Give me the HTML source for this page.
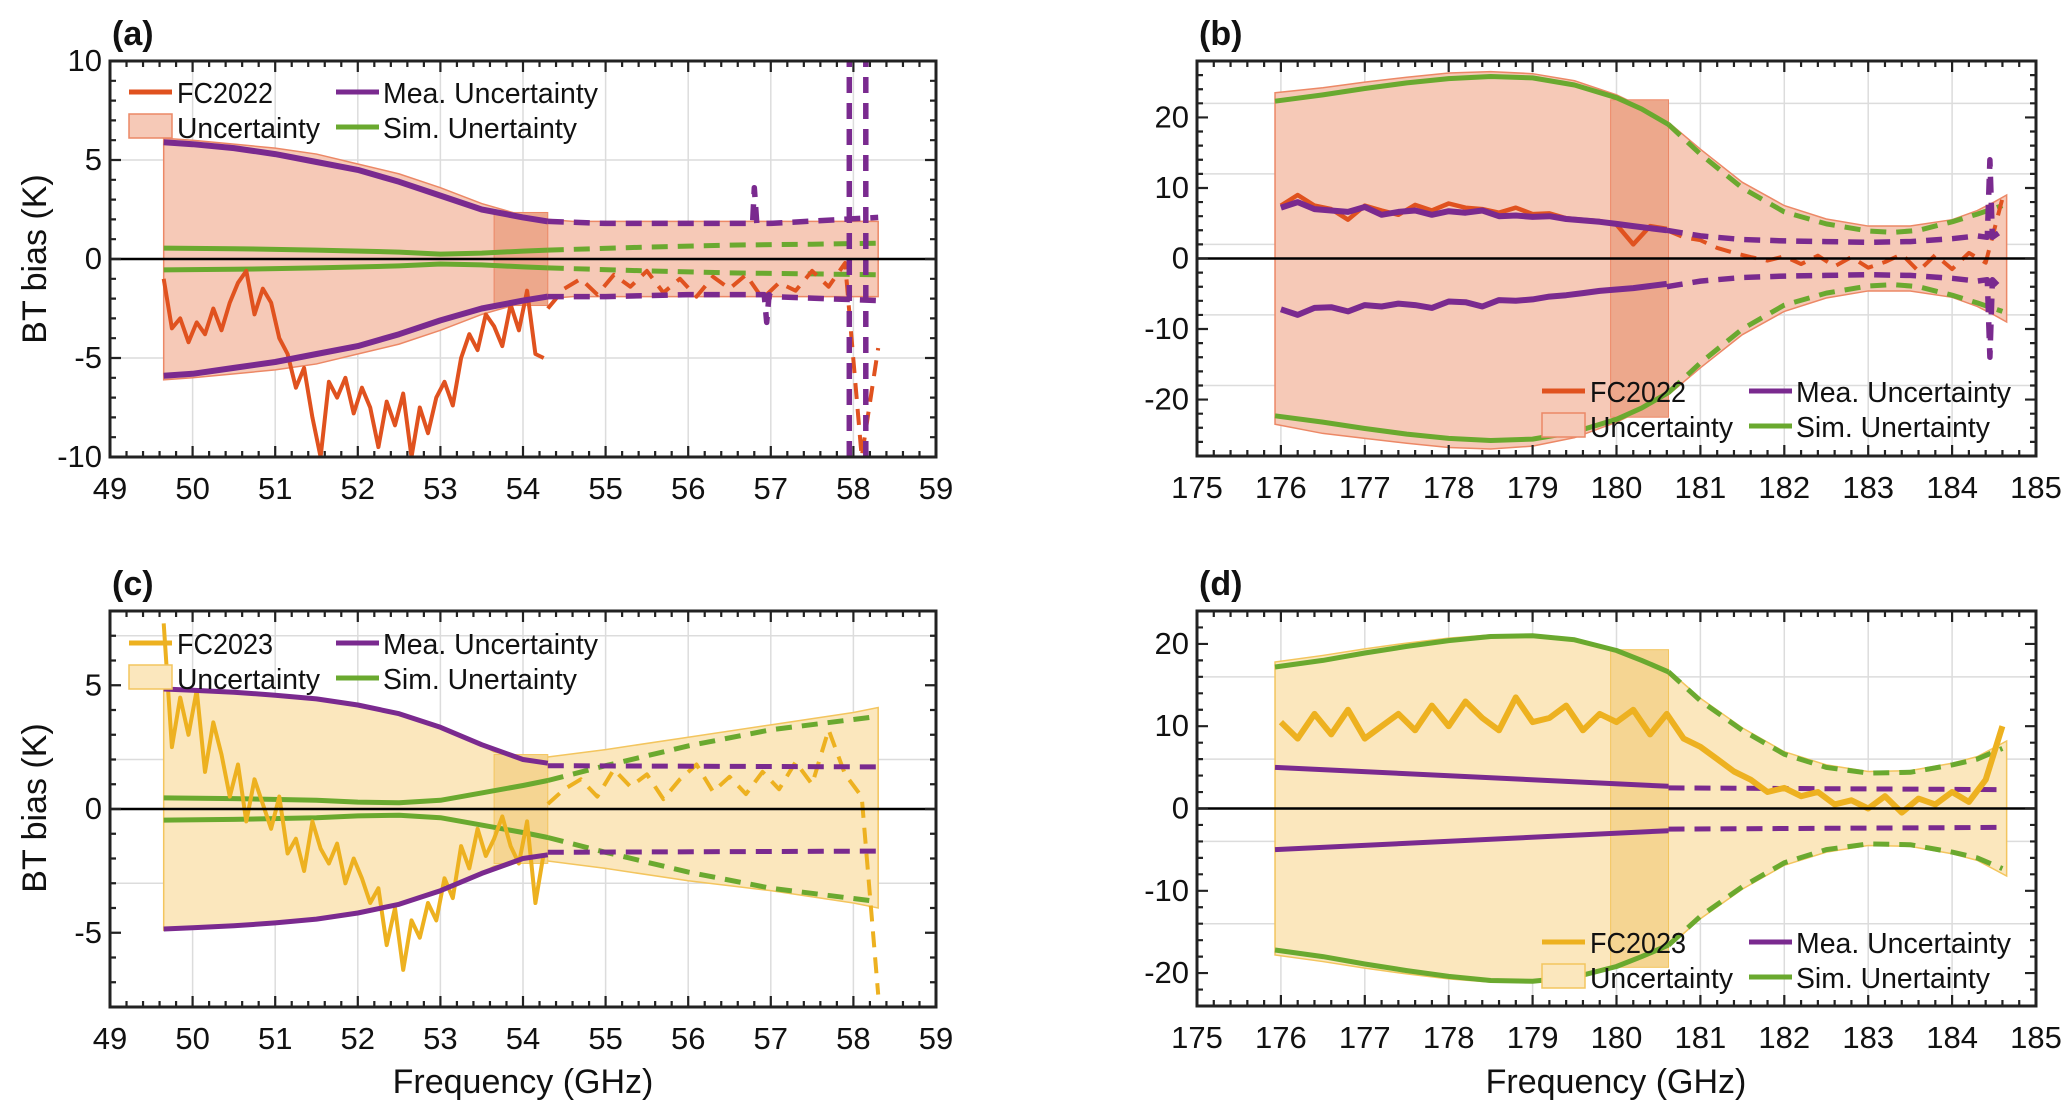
<!DOCTYPE html>
<html><head><meta charset="utf-8"><style>
html,body{margin:0;padding:0;background:#fff;}
svg{display:block;font-family:"Liberation Sans",sans-serif;}
</style></head><body>
<svg id="fig" width="2067" height="1105" viewBox="0 0 2067 1105" xmlns="http://www.w3.org/2000/svg"></svg>
<script>
// ---------- Panel (a) data ----------
const aBandX=[49.65,50,50.5,51,51.5,52,52.5,53,53.5,54,54.3,54.6,55.5,56.5,57.5,58.3];
const aBandHi=[6.1,6.0,5.8,5.6,5.3,4.8,4.3,3.6,2.8,2.2,2.0,1.9,1.9,1.9,1.9,1.9];
const aBandLo=[-6.1,-6.0,-5.8,-5.6,-5.3,-4.8,-4.3,-3.6,-2.8,-2.2,-2.0,-1.9,-1.9,-1.9,-1.9,-1.9];
const aMeaX=[49.65,50,50.5,51,51.5,52,52.5,53,53.5,54,54.3];
const aMeaHi=[5.9,5.8,5.6,5.3,4.9,4.5,3.9,3.2,2.5,2.1,1.9];
const aMeaLo=[-5.9,-5.8,-5.5,-5.2,-4.8,-4.4,-3.8,-3.1,-2.5,-2.1,-1.9];
const aMeaDX=[54.3,55,56,56.78,56.8,56.83,56.92,56.95,56.98,57,58.3];
const aMeaDHi=[1.9,1.8,1.8,1.8,3.6,1.8,1.8,1.8,1.8,1.8,2.1];
const aMeaDLo=[-1.9,-1.9,-1.8,-1.8,-1.8,-1.8,-1.8,-3.2,-1.8,-1.9,-2.1];
const aSpikeX=[57.95,58.15];
const aSimX=[49.65,50.5,51.5,52.5,53,53.5,54,54.3];
const aSimHi=[0.55,0.52,0.45,0.35,0.25,0.3,0.4,0.45];
const aSimDX=[54.3,55.5,56.5,57.5,58.3];
const aSimDHi=[0.45,0.6,0.7,0.75,0.8];
const aFC=[-1,-3.5,-3,-4.2,-3.2,-3.8,-2.5,-3.6,-2.2,-1.2,-0.6,-2.8,-1.5,-2.2,-4,-4.8,-6.5,-5.5,-8,-10,-6.2,-7,-6,-7.8,-6.5,-7.5,-9.5,-7.2,-8.4,-6.8,-10,-7.5,-8.8,-7,-6.2,-7.4,-5,-3.8,-4.6,-2.8,-3.4,-4.4,-2.3,-3.6,-1.6,-4.8,-5];
const aFCD=[-2.5,-1.5,-1.0,-1.8,-0.8,-1.4,-0.6,-1.7,-1.0,-1.9,-0.9,-1.5,-0.8,-2.0,-1.2,-1.6,-0.6,-1.4,-0.2,-10,-4.5];
// ---------- Panel (b) data ----------
const bBandX=[175.93,176.5,177,177.5,178,178.5,179,179.5,180,180.3,180.62,181,181.5,182,182.5,183,183.5,184,184.3,184.5,184.65];
const bBandHi=[23.5,24.2,25,25.7,26.3,26.5,26.2,25.2,23.2,21.5,19.3,15.5,10.8,7.5,5.6,4.6,4.6,5.5,6.8,8,9];
const bBandLo=[-23.5,-24.8,-25.5,-26.2,-26.8,-27,-26.6,-25.4,-23.2,-21.5,-19.3,-15.5,-10.8,-7.5,-5.6,-4.6,-4.6,-5.5,-6.8,-8,-9];
const bSimX=[175.93,176.5,177,177.5,178,178.5,179,179.5,180,180.3,180.62];
const bSimHi=[22.3,23.2,24.1,24.9,25.5,25.8,25.6,24.6,22.8,21.2,19];
const bSimDX=[180.62,181,181.5,182,182.5,183,183.3,183.6,184,184.3,184.6];
const bSimDHi=[19,14.8,10,6.6,4.9,3.9,3.7,4,5.2,6.3,7.5];
const bMeaHi=[7.2,8.0,7.0,6.8,6.6,7.3,6.2,6.6,6.8,6.2,6.7,6.5,6.8,6.0,6.1,5.9,6.0,5.6,5.4,5.2,4.9,4.6,4.3,4.0];
const bMeaLo=[-7.2,-8.0,-7.0,-6.9,-7.5,-6.6,-6.8,-6.4,-6.6,-7.0,-6.1,-6.2,-6.8,-5.9,-6.0,-5.8,-5.4,-5.2,-4.9,-4.6,-4.4,-4.2,-3.9,-3.6];
const bMeaDX=[180.6,181,181.5,182,182.5,183,183.5,184,184.3,184.42,184.45,184.48,184.6];
const bMeaDHi=[4,3.2,2.7,2.5,2.4,2.3,2.4,2.8,3.2,3,14,3,4];
const bMeaDLo=[-4,-3.2,-2.7,-2.5,-2.4,-2.3,-2.4,-2.8,-3.2,-3,-14,-3,-4.5];
const bFC=[7.5,9.0,7.5,7.0,5.5,7.5,6.8,6.2,7.6,6.8,7.8,7.2,7.0,6.5,7.2,6.3,6.4,5.7,5.5,5.3,4.8,2.0,4.6,4.2];
const bFCD=[4,3,2.6,1.5,0.8,0.2,-0.3,0.3,-0.8,0.4,-1.1,0.2,-1.3,-0.5,0.6,-1.8,0.5,-1.5,0.8,-0.6,8.5];
// ---------- Panel (c) data ----------
const cBandX=[49.65,50,50.5,51,51.5,52,52.5,53,53.5,53.65,54,54.3,55,56,57,58,58.3];
const cBandHi=[4.9,4.85,4.75,4.6,4.4,4.15,3.8,3.3,2.6,2.3,2.1,2.1,2.4,2.9,3.4,3.9,4.1];
const cBandLo=[-4.9,-4.85,-4.75,-4.6,-4.4,-4.15,-3.8,-3.3,-2.6,-2.3,-2.1,-2.1,-2.4,-2.9,-3.3,-3.8,-4.0];
const cMeaX=[49.65,50,50.5,51,51.5,52,52.5,53,53.5,54,54.3];
const cMeaHi=[4.85,4.8,4.72,4.6,4.45,4.2,3.85,3.3,2.6,2.0,1.85];
const cMeaDX=[54.3,58.3];
const cMeaDHi=[1.75,1.7];
const cSimX=[49.65,50.5,51.5,52,52.5,53,53.5,54,54.3];
const cSimHi=[0.45,0.42,0.35,0.28,0.25,0.35,0.65,0.95,1.15];
const cSimDX=[54.3,55,56,57,58.2];
const cSimDHi=[1.15,1.75,2.55,3.2,3.7];
const cFC=[7.5,2.5,4.5,3.0,4.8,1.5,3.5,2.2,0.5,1.8,-0.5,1.2,0.2,-0.8,0.5,-1.8,-1.2,-2.5,-0.5,-1.6,-2.2,-1.4,-3.0,-2.0,-2.8,-3.8,-3.2,-5.5,-4.0,-6.5,-4.5,-5.2,-3.8,-4.5,-2.8,-3.6,-1.5,-2.4,-0.8,-1.9,-1.2,-0.3,-1.5,-2.2,-0.5,-3.8,-1.8];
const cFCD=[0.2,0.8,1.2,0.5,1.6,0.9,1.4,0.4,1.2,1.8,0.7,1.3,0.6,1.5,0.8,1.9,1.0,3.2,1.4,0.5,-7.5];
// ---------- Panel (d) data ----------
const dBandX=[175.93,176.5,177,177.5,178,178.5,179,179.5,180,180.3,180.62,181,181.5,182,182.5,183,183.5,184,184.3,184.65];
const dBandHi=[17.8,18.6,19.4,20.1,20.7,21.1,21.1,20.6,19.3,18.2,16.8,13.4,9.8,6.9,5.3,4.5,4.6,5.5,6.3,8.2];
const dBandLo=[-17.8,-18.6,-19.4,-20.1,-20.7,-21.1,-21.1,-20.6,-19.3,-18.2,-16.8,-13.4,-9.8,-6.9,-5.3,-4.5,-4.6,-5.5,-6.3,-8.2];
const dSimX=[175.93,176.5,177,177.5,178,178.5,179,179.5,180,180.3,180.62];
const dSimHi=[17.2,18.0,18.9,19.7,20.4,20.9,21.0,20.5,19.2,18.0,16.6];
const dSimDX=[180.62,181,181.5,182,182.5,183,183.5,184,184.3,184.6];
const dSimDHi=[16.6,13.1,9.5,6.6,5.0,4.3,4.4,5.3,6.0,7.3];
const dMeaX=[175.93,180.62];
const dMeaHi=[5.0,2.7];
const dMeaDX=[180.62,184.6];
const dMeaDHi=[2.5,2.3];
const dFC=[10.5,8.5,11.5,9.0,12.0,8.5,10.0,11.5,9.5,12.5,10.0,13.0,11.0,9.5,13.5,10.5,11.0,12.5,9.5,11.5,10.5,12.0,9.0,11.5,8.5,7.5,6.0,4.5,3.5,2.0,2.5,1.5,2.0,0.5,1.0,0.0,1.5,-0.5,1.2,0.5,2.0,0.8,3.5,10];

const NS="http://www.w3.org/2000/svg";
const svg=document.getElementById('fig');
function mk(tag,attrs,parent){const e=document.createElementNS(NS,tag);for(const k in attrs)e.setAttribute(k,attrs[k]);(parent||svg).appendChild(e);return e;}
const C={orange:'#e0521f',purple:'#7a2a8f',green:'#6aa92f',yellow:'#edb120'};

function panel(p){
  const g=mk('g',{});
  
  
  const sx=v=>p.L+(v-p.x0)/(p.x1-p.x0)*(p.R-p.L);
  const sy=v=>p.B-(v-p.y0)/(p.y1-p.y0)*(p.B-p.T);
  const clip=mk('clipPath',{id:'clip'+p.id},g);
  mk('rect',{x:p.L,y:p.T,width:p.R-p.L,height:p.B-p.T},clip);
  for(let v=p.x0+1;v<p.x1;v++){const l=mk('line',{x1:sx(v),x2:sx(v),y1:p.T,y2:p.B,stroke:'#dcdcdc','stroke-width':1.5},g);}
  for(let v=p.y0+p.ymaj;v<p.y1;v+=p.ymaj){if(Math.abs(v)<1e-9)continue;const l=mk('line',{x1:p.L,x2:p.R,y1:sy(v),y2:sy(v),stroke:'#dcdcdc','stroke-width':1.5},g);}
  const pg=mk('g',{'clip-path':'url(#clip'+p.id+')'},g);
  let pts=p.bandX.map((x,i)=>sx(x)+','+sy(p.bandHi[i]));
  for(let i=p.bandX.length-1;i>=0;i--)pts.push(sx(p.bandX[i])+','+sy(p.bandLo[i]));
  const band=mk('polygon',{points:pts.join(' '),fill:p.fill,stroke:p.fillEdge,'stroke-width':1.5},pg);
  
  
  const dr=mk('rect',{x:sx(p.dark[0]),y:sy(p.darkTop),width:sx(p.dark[1])-sx(p.dark[0]),height:sy(-p.darkTop)-sy(p.darkTop),fill:p.darkFill,stroke:p.fillEdge,'stroke-width':1},pg);
  
  
  function line(xs,ys,col,dash,name,w){
    const d=xs.map((x,i)=>(i?'L':'M')+sx(x).toFixed(1)+','+sy(ys[i]).toFixed(1)).join('');
    const e=mk('path',{d:d,fill:'none',stroke:col,'stroke-width':w||5,'stroke-linejoin':'round'},pg);
    if(dash)e.setAttribute('stroke-dasharray','16,10');
    
    
  }
  p.draw(line,sx,sy,pg);
  const z=mk('line',{x1:p.L,x2:p.R,y1:sy(0),y2:sy(0),stroke:'#000','stroke-width':2.5},g);
  
  
  const fr=mk('rect',{x:p.L,y:p.T,width:p.R-p.L,height:p.B-p.T,fill:'none',stroke:'#222','stroke-width':3},g);
  
  
  let tk='';
  for(let i=0;i<=(p.x1-p.x0)*5;i++){const v=p.x0+i*0.2;const X=sx(v);const len=(i%5===0)?11:6;tk+=`M${X},${p.B}v${-len}M${X},${p.T}v${len}`;}
  for(let v=p.y0;v<=p.y1+1e-9;v+=p.ymin){const Y=sy(v);const maj=Math.abs(Math.round(v/p.ymaj)*p.ymaj-v)<1e-9;const len=maj?11:6;tk+=`M${p.L},${Y}h${len}M${p.R},${Y}h${-len}`;}
  const t=mk('path',{d:tk,stroke:'#222','stroke-width':2.2,fill:'none'},g);
  
  
  for(let v=p.x0;v<=p.x1;v++){const e=mk('text',{x:sx(v),y:p.B+42,'text-anchor':'middle','font-size':31,fill:'#111'},g);e.textContent=v;}
  for(let v=p.ylab0;v<=p.y1;v+=p.ymaj){const e=mk('text',{x:p.L-8,y:sy(v)+10,'text-anchor':'end','font-size':31,fill:'#111'},g);e.textContent=v;}
  const lt=mk('text',{x:p.L+2,y:p.T-16,'font-size':34,'font-weight':'bold',fill:'#111'},g);
  lt.textContent='('+p.id+')';
  
  
  const lg=mk('g',{},g);
  
  
  const [lx,ly]=p.leg;
  const e1=mk('line',{x1:lx,x2:lx+43,y1:ly,y2:ly,stroke:p.fcCol,'stroke-width':5},lg);
  
  
  const r=mk('rect',{x:lx,y:ly+22,width:43,height:24,fill:p.fill,stroke:p.fillEdge,'stroke-width':1.5},lg);
  
  
  const e2=mk('line',{x1:lx+207,x2:lx+250,y1:ly,y2:ly,stroke:C.purple,'stroke-width':5},lg);
  
  
  const e3=mk('line',{x1:lx+207,x2:lx+250,y1:ly+35,y2:ly+35,stroke:C.green,'stroke-width':5},lg);
  
  
  const labs=[[lx+48,ly+11,p.fcName,96],[lx+48,ly+46,'Uncertainty',143],[lx+254,ly+11,'Mea. Uncertainty',215],[lx+254,ly+46,'Sim. Unertainty',194]];
  labs.forEach(a=>{const e=mk('text',{x:a[0],y:a[1],'font-size':29,fill:'#111',textLength:a[3],lengthAdjust:'spacingAndGlyphs'},lg);e.textContent=a[2];});
}
const seq=(s,st,n)=>Array.from({length:n},(_,i)=>s+st*i);
const orangeFill='#f6c9b7',orangeDark='#eda88c',orangeEdge='#ec8866';
const yFill='#fbe7bd',yDark='#f5d592',yEdge='#f3c55e';

panel({id:'a',L:110,R:936,T:61,B:457,x0:49,x1:59,y0:-10,y1:10,ymaj:5,ymin:1,ylab0:-10,
  bandX:aBandX,bandHi:aBandHi,bandLo:aBandLo,fill:orangeFill,fillEdge:orangeEdge,darkFill:orangeDark,dark:[53.65,54.3],darkTop:2.35,
  leg:[129,92],fcCol:C.orange,fcName:'FC2022',
  draw:(line)=>{
    line(aSimX,aSimHi,C.green,false,'sim-upper');line(aSimX,aSimHi.map(v=>-v),C.green,false,'sim-lower');
    line(aSimDX,aSimDHi,C.green,true,'sim-upper-dashed');line(aSimDX,aSimDHi.map(v=>-v),C.green,true,'sim-lower-dashed');
    line(seq(49.65,0.1,aFC.length),aFC,C.orange,false,'fc2022-line',4);
    line(seq(54.3,0.2,aFCD.length),aFCD,C.orange,true,'fc2022-dashed',4);
    line(aMeaX,aMeaHi,C.purple,false,'mea-upper',6);line(aMeaX,aMeaLo,C.purple,false,'mea-lower',6);
    line(aMeaDX,aMeaDHi,C.purple,true,'mea-upper-dashed',5.5);line(aMeaDX,aMeaDLo,C.purple,true,'mea-lower-dashed',5.5);
    aSpikeX.forEach(x=>line([x,x],[-10,10],C.purple,true,'mea-spike',5.5));
  }});
panel({id:'b',L:1197,R:2036,T:61,B:456,x0:175,x1:185,y0:-28,y1:28,ymaj:10,ymin:2,ylab0:-20,
  bandX:bBandX,bandHi:bBandHi,bandLo:bBandLo,fill:orangeFill,fillEdge:orangeEdge,darkFill:orangeDark,dark:[179.93,180.62],darkTop:22.5,
  leg:[1542,391],fcCol:C.orange,fcName:'FC2022',
  draw:(line)=>{
    line(bSimX,bSimHi,C.green,false,'sim-upper');line(bSimX,bSimHi.map(v=>-v),C.green,false,'sim-lower');
    line(bSimDX,bSimDHi,C.green,true,'sim-upper-dashed');line(bSimDX,bSimDHi.map(v=>-v),C.green,true,'sim-lower-dashed');
    line(seq(176,0.2,bFC.length),bFC,C.orange,false,'fc2022-line',4.5);
    line(seq(180.6,0.2,bFCD.length),bFCD,C.orange,true,'fc2022-dashed',4);
    line(seq(176,0.2,bMeaHi.length),bMeaHi,C.purple,false,'mea-upper',6);line(seq(176,0.2,bMeaLo.length),bMeaLo,C.purple,false,'mea-lower',6);
    line(bMeaDX,bMeaDHi,C.purple,true,'mea-upper-dashed',5.5);line(bMeaDX,bMeaDLo,C.purple,true,'mea-lower-dashed',5.5);
  }});
panel({id:'c',L:110,R:936,T:611,B:1007,x0:49,x1:59,y0:-8,y1:8,ymaj:5,ymin:1,ylab0:-5,
  bandX:cBandX,bandHi:cBandHi,bandLo:cBandLo,fill:yFill,fillEdge:yEdge,darkFill:yDark,dark:[53.65,54.3],darkTop:2.2,
  leg:[129,643],fcCol:C.yellow,fcName:'FC2023',
  draw:(line)=>{
    line(cSimX,cSimHi,C.green,false,'sim-upper');line(cSimX,cSimHi.map(v=>-v),C.green,false,'sim-lower');
    line(cSimDX,cSimDHi,C.green,true,'sim-upper-dashed');line(cSimDX,cSimDHi.map(v=>-v),C.green,true,'sim-lower-dashed');
    line(seq(49.65,0.1,cFC.length),cFC,C.yellow,false,'fc2023-line',4);
    line(seq(54.3,0.2,cFCD.length),cFCD,C.yellow,true,'fc2023-dashed',4);
    line(cMeaX,cMeaHi,C.purple,false,'mea-upper');line(cMeaX,cMeaHi.map(v=>-v),C.purple,false,'mea-lower');
    line(cMeaDX,cMeaDHi,C.purple,true,'mea-upper-dashed');line(cMeaDX,cMeaDHi.map(v=>-v),C.purple,true,'mea-lower-dashed');
  }});
panel({id:'d',L:1197,R:2036,T:611,B:1006,x0:175,x1:185,y0:-24,y1:24,ymaj:10,ymin:2,ylab0:-20,
  bandX:dBandX,bandHi:dBandHi,bandLo:dBandLo,fill:yFill,fillEdge:yEdge,darkFill:yDark,dark:[179.93,180.62],darkTop:19.3,
  leg:[1542,942],fcCol:C.yellow,fcName:'FC2023',
  draw:(line)=>{
    line(dSimX,dSimHi,C.green,false,'sim-upper');line(dSimX,dSimHi.map(v=>-v),C.green,false,'sim-lower');
    line(dSimDX,dSimDHi,C.green,true,'sim-upper-dashed');line(dSimDX,dSimDHi.map(v=>-v),C.green,true,'sim-lower-dashed');
    line(dMeaX,dMeaHi,C.purple,false,'mea-upper');line(dMeaX,dMeaHi.map(v=>-v),C.purple,false,'mea-lower');
    line(dMeaDX,dMeaDHi,C.purple,true,'mea-upper-dashed');line(dMeaDX,dMeaDHi.map(v=>-v),C.purple,true,'mea-lower-dashed');
    line(seq(176,0.2,dFC.length),dFC,C.yellow,false,'fc2023-line',6);
  }});
[[259,'y-axis-title-a'],[808,'y-axis-title-c']].forEach(a=>{
  const e=mk('text',{x:0,y:0,transform:`translate(46,${a[0]}) rotate(-90)`,'text-anchor':'middle','font-size':34,fill:'#111'});
  e.textContent='BT bias (K)';
  
  
});
[[523,'x-axis-title-c'],[1616,'x-axis-title-d']].forEach(a=>{
  const e=mk('text',{x:a[0],y:1093,'text-anchor':'middle','font-size':34,fill:'#111'});
  e.textContent='Frequency (GHz)';
  
  
});
</script>
</body></html>
